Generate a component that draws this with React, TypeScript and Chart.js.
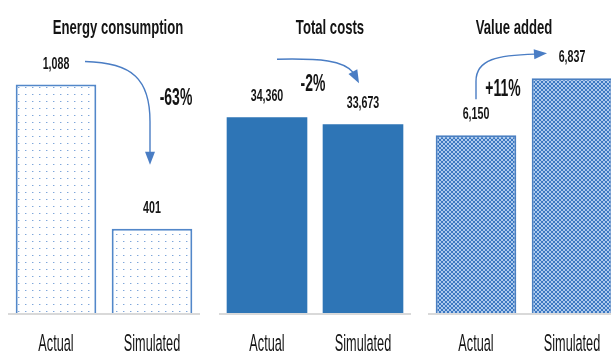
import { useEffect, useRef } from "react";
import { Chart, registerables } from "chart.js";

Chart.register(...registerables);

// ---- data ----
const categories = ["Actual", "Simulated"];
const panelTitles = ["Energy consumption", "Total costs", "Value added"];
const energyValues = [1088, 401];
const costValues = [34360, 33673];
const valueAddedValues = [6150, 6837];

// value-axis ranges (Excel-style auto ranges)
const energyRange = [0, 1300];
const costRange = [15000, 42000];
const valueAddedRange = [4000, 7300];

type ArrowKind = "down" | "over" | "up";

const FONT = '"Liberation Sans", Arial, sans-serif';
const INK = "#141414";
const ARROW = "#4a7dc4";

function pctChange(v: number[]) {
  const p = Math.round(((v[1] - v[0]) / v[0]) * 100);
  return (p > 0 ? "+" : "") + p + "%";
}

function fmt(n: number) {
  return n.toLocaleString("en-US");
}

// condensed, slightly tall text like a narrow face
function drawText(
  ctx: CanvasRenderingContext2D,
  text: string,
  x: number,
  yCenter: number,
  size: number,
  bold: boolean,
  sy: number,
  sx = 0.82
) {
  const cap = size * 0.716 * sy;
  ctx.save();
  ctx.translate(x, yCenter + cap / 2);
  ctx.scale(sx, sy);
  ctx.font = `${bold ? "bold " : ""}${size}px ${FONT}`;
  ctx.fillStyle = INK;
  ctx.textAlign = "center";
  ctx.textBaseline = "alphabetic";
  ctx.fillText(text, 0, 0);
  ctx.restore();
}

function drawHead(ctx: CanvasRenderingContext2D, tx: number, ty: number, ang: number) {
  const len = 13;
  const hw = 5;
  const bx = tx - len * Math.cos(ang);
  const by = ty - len * Math.sin(ang);
  const nx = -Math.sin(ang);
  const ny = Math.cos(ang);
  ctx.beginPath();
  ctx.moveTo(tx, ty);
  ctx.lineTo(bx + nx * hw, by + ny * hw);
  ctx.lineTo(bx - nx * hw, by - ny * hw);
  ctx.closePath();
  ctx.fill();
}

function makeDots(): CanvasPattern | string {
  const c = document.createElement("canvas");
  c.width = 7;
  c.height = 7;
  const g = c.getContext("2d");
  if (!g) return "#ffffff";
  g.fillStyle = "#ffffff";
  g.fillRect(0, 0, 7, 7);
  g.fillStyle = "#7ea6da";
  g.fillRect(3, 3, 1, 1);
  g.fillStyle = "#c9daf1";
  g.fillRect(4, 3, 1, 1);
  return g.createPattern(c, "repeat") || "#ffffff";
}

function makeLattice(): CanvasPattern | string {
  const c = document.createElement("canvas");
  c.width = 4;
  c.height = 4;
  const g = c.getContext("2d");
  if (!g) return "#6fa0da";
  g.fillStyle = "#acc9ed";
  g.fillRect(0, 0, 4, 4);
  g.fillStyle = "#3c78c1";
  const dark = [
    [0, 0], [1, 1], [2, 2], [3, 3],
    [3, 0], [2, 1], [1, 2], [0, 3],
  ];
  dark.forEach(([x, y]) => g.fillRect(x, y, 1, 1));
  return g.createPattern(c, "repeat") || "#6fa0da";
}

interface PanelProps {
  left: number;
  title: string;
  titleDx: number;
  values: number[];
  range: number[];
  fill: "dots" | "solid" | "lattice";
  border: string;
  borderWidth: number;
  arrow: ArrowKind;
}

function Panel(p: PanelProps) {
  const ref = useRef<HTMLCanvasElement | null>(null);

  useEffect(() => {
    const canvas = ref.current;
    if (!canvas) return;

    const bg =
      p.fill === "dots" ? makeDots() : p.fill === "lattice" ? makeLattice() : "#2e75b6";

    const decor = {
      id: "decor",
      afterDatasetsDraw(chart: Chart) {
        const ctx = chart.ctx;
        const area = chart.chartArea;
        const bars = chart.getDatasetMeta(0).data as any[];
        const b0 = bars[0];
        const b1 = bars[1];

        // category axis line
        ctx.save();
        ctx.fillStyle = "#d9d9d9";
        ctx.fillRect(area.left, area.bottom, area.right - area.left, 2);

        // title
        drawText(ctx, p.title, (area.left + area.right) / 2 + p.titleDx, 27, 16, true, 1.3);

        // value labels and category labels
        bars.forEach((b, i) => {
          drawText(ctx, fmt(p.values[i]), b.x, b.y - 22, 13, true, 1.32);
          drawText(ctx, categories[i], b.x, 343, 15.5, false, 1.5);
        });

        // change arrow
        ctx.strokeStyle = ARROW;
        ctx.fillStyle = ARROW;
        ctx.lineWidth = 1.4;
        const label = pctChange(p.values);
        if (p.arrow === "down") {
          const sx = b0.x + 29;
          const sy = b0.y - 23;
          const tx = b1.x - 2;
          const ty = b1.y - 64;
          ctx.beginPath();
          ctx.moveTo(sx, sy);
          ctx.bezierCurveTo(sx + 48, sy + 1, tx, sy + 18, tx, sy + 60);
          ctx.lineTo(tx, ty - 12);
          ctx.stroke();
          drawHead(ctx, tx, ty, Math.PI / 2);
          drawText(ctx, label, b1.x + 24, b0.y + 12, 17, true, 1.38);
        } else if (p.arrow === "over") {
          const sx = b0.x + 10;
          const sy = b0.y - 58;
          const tx = b1.x - 4;
          const ty = b1.y - 41;
          const ang = (62 * Math.PI) / 180;
          const bx = tx - 12 * Math.cos(ang);
          const by = ty - 12 * Math.sin(ang);
          ctx.beginPath();
          ctx.moveTo(sx, sy);
          ctx.bezierCurveTo(sx + 44, sy - 1, bx - 10, by - 12, bx, by);
          ctx.stroke();
          drawHead(ctx, tx, ty, ang);
          drawText(ctx, label, (b0.x + b1.x) / 2 - 2, b0.y - 35, 17, true, 1.38);
        } else {
          const sx = b0.x;
          const sy = b0.y - 36;
          const tx = b1.x - 25;
          const ty = b1.y - 25;
          const ang = (-4 * Math.PI) / 180;
          const bx = tx - 12 * Math.cos(ang);
          const by = ty - 12 * Math.sin(ang);
          ctx.beginPath();
          ctx.moveTo(sx, sy);
          ctx.lineTo(sx, sy - 18);
          ctx.bezierCurveTo(sx, sy - 40, sx + 22, by + 1, bx, by);
          ctx.stroke();
          drawHead(ctx, tx, ty, ang);
          drawText(ctx, label, b0.x + 27, b1.y + 9, 17, true, 1.38);
        }
        ctx.restore();
      },
    };

    const chart = new Chart(canvas, {
      type: "bar",
      data: {
        labels: categories,
        datasets: [
          {
            data: p.values,
            backgroundColor: bg as any,
            borderColor: p.border,
            borderWidth: p.borderWidth,
            categoryPercentage: 1,
            barPercentage: 0.84,
          },
        ],
      },
      options: {
        responsive: false,
        animation: false,
        devicePixelRatio: 1,
        layout: { padding: { top: 40, bottom: 38, left: 0, right: 0 } },
        plugins: {
          legend: { display: false },
          tooltip: { enabled: false },
          title: { display: false },
        },
        scales: {
          x: { display: false },
          y: { display: false, min: p.range[0], max: p.range[1] },
        },
      },
      plugins: [decor],
    });

    return () => chart.destroy();
  }, []);

  return (
    <canvas
      ref={ref}
      width={192}
      height={351}
      style={{ position: "absolute", left: p.left, top: 0, display: "block" }}
    />
  );
}

export default function App() {
  return (
    <div
      style={{
        position: "fixed",
        left: 0,
        top: 0,
        width: 611,
        height: 351,
        overflow: "hidden",
        background: "#ffffff",
      }}
    >
      <Panel
        left={8}
        title={panelTitles[0]}
        titleDx={14}
        values={energyValues}
        range={energyRange}
        fill="dots"
        border="#5287c9"
        borderWidth={2}
        arrow="down"
      />
      <Panel
        left={219}
        title={panelTitles[1]}
        titleDx={15}
        values={costValues}
        range={costRange}
        fill="solid"
        border="#2e75b6"
        borderWidth={0}
        arrow="over"
      />
      <Panel
        left={428}
        title={panelTitles[2]}
        titleDx={-10}
        values={valueAddedValues}
        range={valueAddedRange}
        fill="lattice"
        border="#4a7fc1"
        borderWidth={2}
        arrow="up"
      />
    </div>
  );
}
